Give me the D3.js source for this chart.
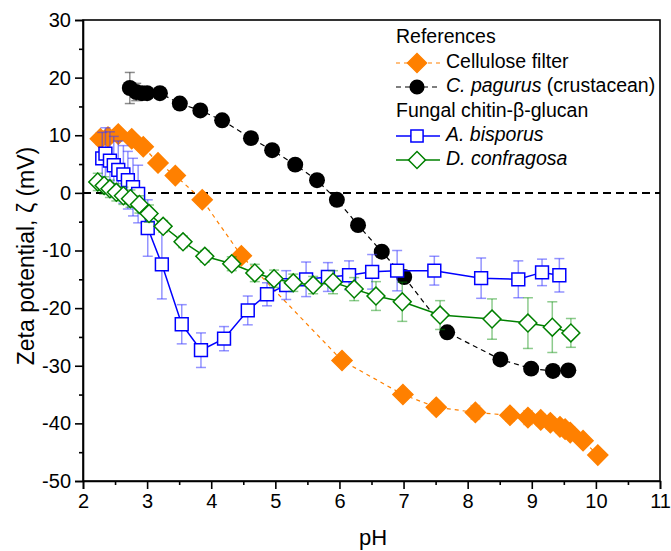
<!DOCTYPE html>
<html>
<head>
<meta charset="utf-8">
<script src="https://cdn.jsdelivr.net/npm/d3@7"></script>
<style>
  body { margin: 0; background: #fff; }
  svg { display: block; font-family: "Liberation Sans", Arial, sans-serif; }
  .axis text { font-size: 20px; fill: #000; }
  .axis path, .axis line { stroke: #000; stroke-width: 1.6; }
</style>
</head>
<body>
<svg id="chart" width="671" height="551"></svg>
<script>
// Cellulose filter (reference)
const celluloseX = [2.27, 2.39, 2.55, 2.76, 2.94, 3.17, 3.44, 3.86, 4.47, 6.04, 6.99, 7.51, 8.12, 8.66, 8.94, 9.14, 9.29, 9.44, 9.52, 9.60, 9.80, 10.03]
const celluloseY = [9.4, 9.7, 10.2, 9.4, 8.0, 5.2, 3.0, -1.2, -10.9, -29.1, -35.0, -37.2, -38.1, -38.6, -39.0, -39.4, -39.9, -40.6, -41.0, -41.6, -43.0, -45.5]
const celluloseErr = [1, 1, 0.8, 0.8, 0.8, 0.6, 0.6, 0.8, 0.6, 0.6, 0.9, 1.0, 1.2, 1.0, 1.2, 1.0, 1.0, 1.0, 1.0, 1.0, 0.8, 0.6]

// C. pagurus (crustacean)
const pagurusX = [2.73, 2.83, 2.92, 3.0, 3.2, 3.51, 3.83, 4.17, 4.62, 4.95, 5.31, 5.65, 5.96, 6.29, 6.66, 7.01, 7.68, 8.51, 8.99, 9.33, 9.57]
const pagurusY = [18.2, 17.5, 17.3, 17.3, 17.3, 15.5, 14.3, 12.6, 9.5, 7.4, 4.9, 2.2, -1.2, -5.6, -10.2, -14.6, -24.2, -28.9, -30.5, -30.9, -30.8]
const pagurusErr = [2.7, 1.5, 0.8, 0.5, 0.5, 0.4, 0.4, 0.4, 0.4, 0.4, 0.4, 0.4, 0.4, 0.4, 0.4, 0.4, 0.4, 0.4, 0.4, 0.4, 0.4]

// A. bisporus
const bisporusX = [2.30, 2.35, 2.42, 2.48, 2.55, 2.63, 2.70, 2.78, 2.86, 3.01, 3.23, 3.54, 3.84, 4.20, 4.57, 4.87, 5.17, 5.48, 5.82, 6.15, 6.51, 6.90, 7.48, 8.21, 8.79, 9.16, 9.43]
const bisporusY = [6.0, 6.8, 5.6, 4.8, 4.0, 3.2, 2.2, 1.0, -0.2, -6.1, -12.4, -22.8, -27.3, -25.3, -20.4, -17.6, -16.0, -15.0, -14.6, -14.3, -13.7, -13.5, -13.5, -14.8, -15.0, -13.8, -14.3]
const bisporusErr = [4.5, 4.5, 5, 5, 5, 5, 5, 5, 5, 4.9, 6, 3.4, 3, 2.1, 2.5, 2, 2.5, 3, 2.5, 2.5, 3, 3.5, 2.5, 3.5, 3.2, 2.3, 2.9]

// D. confragosa
const confragosaX = [2.23, 2.33, 2.42, 2.52, 2.63, 2.74, 2.88, 3.03, 3.25, 3.56, 3.90, 4.32, 4.68, 4.98, 5.28, 5.59, 5.90, 6.23, 6.57, 6.98, 7.57, 8.38, 8.94, 9.32, 9.61]
const confragosaY = [1.9, 1.3, 0.7, 0.1, -0.5, -1.0, -2.0, -3.6, -5.8, -8.5, -11.0, -12.3, -13.9, -14.9, -15.6, -16.0, -15.5, -16.7, -17.9, -18.9, -21.2, -21.9, -22.6, -23.3, -24.3]
const confragosaErr = [1.5, 1.5, 1.5, 1.5, 1.5, 1.5, 1.5, 1.5, 1, 1, 1, 1.2, 1.5, 1.5, 1.5, 1.5, 2.0, 2, 2.5, 3.4, 2.5, 3.5, 4.4, 4.4, 2.5]

const xTicks = [2, 3, 4, 5, 6, 7, 8, 9, 10, 11]
const yTicks = [-50, -40, -30, -20, -10, 0, 10, 20, 30]

const zip = (xs, ys, es) => xs.map((x, i) => ({ x, y: ys[i], e: es[i] }))

const series = [
  { name: 'cellulose', data: zip(celluloseX, celluloseY, celluloseErr), color: '#ff8000', err: 'rgba(255,128,0,0.45)', dash: '4,4', width: 1.2, symbol: 'diamond', size: 200, fill: '#ff8000' },
  { name: 'pagurus', data: zip(pagurusX, pagurusY, pagurusErr), color: '#000', err: 'rgba(0,0,0,0.45)', dash: '5,4', width: 1.2, symbol: 'circle', size: 200, fill: '#000' },
  { name: 'bisporus', data: zip(bisporusX, bisporusY, bisporusErr), color: '#0000ff', err: 'rgba(60,60,255,0.55)', dash: null, width: 1.5, symbol: 'square', size: 165, fill: '#fff' },
  { name: 'confragosa', data: zip(confragosaX, confragosaY, confragosaErr), color: '#008000', err: 'rgba(0,140,0,0.45)', dash: null, width: 1.5, symbol: 'diamond', size: 160, fill: '#fff' }
]
// draw order: black first, then orange, blue, green
const drawOrder = ['pagurus', 'cellulose', 'bisporus', 'confragosa']

const margin = { left: 83, right: 11, top: 20, bottom: 70 }
const width = 671, height = 551
const svg = d3.select('#chart')

const x = d3.scaleLinear().domain([2, 11]).range([margin.left, width - margin.right])
const y = d3.scaleLinear().domain([-50, 30]).range([height - margin.bottom, margin.top])

// frame
svg.append('rect')
  .attr('x', x(2)).attr('y', y(30))
  .attr('width', x(11) - x(2)).attr('height', y(-50) - y(30))
  .attr('fill', 'none').attr('stroke', '#000').attr('stroke-width', 1.6)

// zero line
svg.append('line')
  .attr('x1', x(2)).attr('x2', x(11))
  .attr('y1', y(0)).attr('y2', y(0))
  .attr('stroke', '#000').attr('stroke-width', 2).attr('stroke-dasharray', '8,5')

// axes (plain hyphen for negatives, like the original)
const fmt = d => String(d)
const xAxis = d3.axisBottom(x).tickValues(xTicks).tickSize(8).tickPadding(5).tickFormat(fmt)
const yAxis = d3.axisLeft(y).tickValues(yTicks).tickSize(8).tickPadding(4).tickFormat(fmt)

svg.append('g').attr('class', 'axis')
  .attr('transform', `translate(0, ${y(-50)})`)
  .call(xAxis)
svg.append('g').attr('class', 'axis')
  .attr('transform', `translate(${x(2)}, 0)`)
  .call(yAxis)

// minor ticks
svg.append('g').attr('class', 'axis')
  .attr('transform', `translate(0, ${y(-50)})`)
  .call(d3.axisBottom(x).tickValues(xTicks.slice(0, -1).map(d => d + 0.5)).tickSize(4).tickFormat(''))
  .select('.domain').remove()
svg.append('g').attr('class', 'axis')
  .attr('transform', `translate(${x(2)}, 0)`)
  .call(d3.axisLeft(y).tickValues(yTicks.slice(0, -1).map(d => d + 5)).tickSize(4).tickFormat(''))
  .select('.domain').remove()

// axis titles
svg.append('text')
  .attr('x', 373).attr('y', 545)
  .attr('text-anchor', 'middle')
  .style('font-size', '22px')
  .text('pH')

svg.append('text')
  .attr('transform', `translate(34, 256) rotate(-90)`)
  .attr('text-anchor', 'middle')
  .style('font-size', '23px')
  .text('Zeta potential, ζ (mV)')

const symbolPath = (type, size) => {
  if (type === 'circle') return d3.symbol(d3.symbolCircle, size)()
  return d3.symbol(d3.symbolSquare, size)()
}

const line = d3.line().x(d => x(d.x)).y(d => y(d.y))

drawOrder.forEach(name => {
  const s = series.find(d => d.name === name)
  const g = svg.append('g').attr('class', 'series-' + s.name)

  g.append('path')
    .attr('d', line(s.data))
    .attr('fill', 'none')
    .attr('stroke', s.color)
    .attr('stroke-width', s.width)
    .attr('stroke-dasharray', s.dash)

  // error bars
  const eb = g.append('g')
  s.data.forEach(d => {
    const cx = x(d.x)
    eb.append('line')
      .attr('x1', cx).attr('x2', cx)
      .attr('y1', y(d.y + d.e)).attr('y2', y(d.y - d.e))
      .attr('stroke', s.err).attr('stroke-width', 1.5)
    ;[d.y + d.e, d.y - d.e].forEach(v => {
      eb.append('line')
        .attr('x1', cx - 5).attr('x2', cx + 5)
        .attr('y1', y(v)).attr('y2', y(v))
        .attr('stroke', s.err).attr('stroke-width', 1.5)
    })
  })

  g.selectAll('path.mark')
    .data(s.data)
    .enter()
    .append('path')
    .attr('class', 'mark')
    .attr('d', symbolPath(s.symbol, s.size))
    .attr('transform', d => `translate(${x(d.x)}, ${y(d.y)})` + (s.symbol === 'diamond' ? ' rotate(45)' : ''))
    .attr('fill', s.fill)
    .attr('stroke', s.color)
    .attr('stroke-width', s.symbol === 'circle' ? 0 : 1.5)
})

// legend
const legend = svg.append('g').style('font-size', '19.5px')
const lx = 396, textX = 446
legend.append('text').attr('x', lx).attr('y', 38).attr('dominant-baseline', 'middle').text('References')
legend.append('text').attr('x', lx).attr('y', 112).attr('dominant-baseline', 'middle').text('Fungal chitin-β-glucan')

const legendRows = [
  { name: 'cellulose', y: 63, label: [['Cellulose filter', false]] },
  { name: 'pagurus', y: 87, label: [['C. pagurus', true], [' (crustacean)', false]] },
  { name: 'bisporus', y: 136, label: [['A. bisporus', true]] },
  { name: 'confragosa', y: 160, label: [['D. confragosa', true]] }
]

legendRows.forEach(r => {
  const s = series.find(d => d.name === r.name)
  legend.append('line')
    .attr('x1', lx).attr('x2', lx + 44)
    .attr('y1', r.y).attr('y2', r.y)
    .attr('stroke', s.color).attr('stroke-width', s.width)
    .attr('stroke-dasharray', s.dash)
  legend.append('path')
    .attr('d', symbolPath(s.symbol, s.size * 0.9))
    .attr('transform', `translate(${lx + 21}, ${r.y})` + (s.symbol === 'diamond' ? ' rotate(45)' : ''))
    .attr('fill', s.fill).attr('stroke', s.color)
    .attr('stroke-width', s.symbol === 'circle' ? 0 : 1.5)
  const t = legend.append('text').attr('x', textX).attr('y', r.y).attr('dominant-baseline', 'middle')
  r.label.forEach(([txt, it]) => {
    t.append('tspan').style('font-style', it ? 'italic' : 'normal').text(txt)
  })
})
</script>
</body>
</html>
